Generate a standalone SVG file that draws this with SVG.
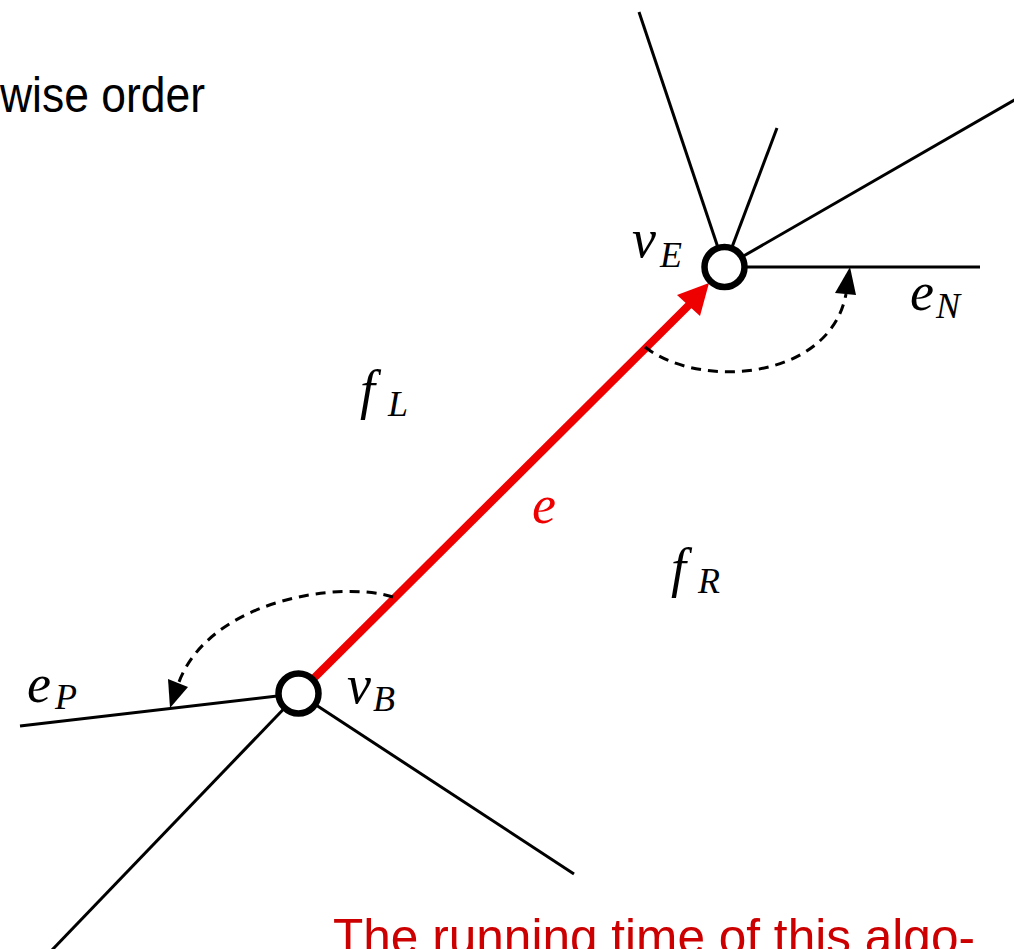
<svg xmlns="http://www.w3.org/2000/svg" width="1014" height="949" viewBox="0 0 1014 949">
<style>
.edge{stroke:#000;stroke-width:3;fill:none;stroke-linecap:butt}
.red{stroke:#ee0000;stroke-width:8;fill:none}
.dash{stroke:#000;stroke-width:3;fill:none;stroke-dasharray:10 7}
.vtx{fill:#fff;stroke:#000;stroke-width:6.5}
.m{font-family:"Liberation Serif","DejaVu Serif",serif;font-style:italic;font-size:54px;fill:#000}
.s{font-family:"Liberation Serif","DejaVu Serif",serif;font-style:italic;font-size:36px;fill:#000}
.t{font-family:"Liberation Sans","DejaVu Sans",sans-serif;font-size:50px}
</style>
<rect width="1014" height="949" fill="#fff"/>
<text class="t" x="0" y="112" textLength="205" lengthAdjust="spacingAndGlyphs" fill="#000">wise order</text>
<text class="t" x="333" y="954" textLength="642" lengthAdjust="spacingAndGlyphs" fill="#cc0000">The running time of this algo-</text>
<g id="connectors">
<line class="edge" x1="724.5" y1="267" x2="639" y2="12"/>
<line class="edge" x1="724.5" y1="267" x2="777" y2="128"/>
<line class="edge" x1="724.5" y1="267" x2="1016" y2="99"/>
<line class="edge" x1="724.5" y1="267" x2="980" y2="267"/>
<line class="edge" x1="298.5" y1="693.5" x2="20" y2="726"/>
<line class="edge" x1="298.5" y1="693.5" x2="52" y2="950"/>
<line class="edge" x1="298.5" y1="693.5" x2="574" y2="874"/>
<line class="red" x1="298.5" y1="693.5" x2="692" y2="302"/>
<polygon fill="#ee0000" points="709,283 700,316 677,295"/>
<path class="dash" d="M645,347 C700,390 830,380 846,294"/>
<polygon fill="#000" points="850,267 856,295 835,293"/>
<path class="dash" d="M393,597 C340,580 210,600 179,682"/>
<polygon fill="#000" points="170,708 168,679 188,687"/>
</g>
<g id="vE">
<circle class="vtx" cx="724.5" cy="267" r="20"/>
<text class="m" x="632" y="257">v</text><text class="s" x="660" y="267">E</text>
</g>
<g id="vB">
<circle class="vtx" cx="298.5" cy="693.5" r="20"/>
<text class="m" x="347" y="703">v</text><text class="s" x="373" y="711">B</text>
</g>
<g id="labels">
<text class="m" x="910" y="310">e</text><text class="s" x="936" y="318">N</text>
<text class="m" x="27" y="702">e</text><text class="s" x="55" y="709">P</text>
<text class="m" x="360" y="408">f</text><text class="s" x="388" y="416">L</text>
<text class="m" x="671" y="586">f</text><text class="s" x="698" y="593">R</text>
<text class="m" x="532" y="523" style="fill:#ee0000">e</text>
</g>
</svg>
